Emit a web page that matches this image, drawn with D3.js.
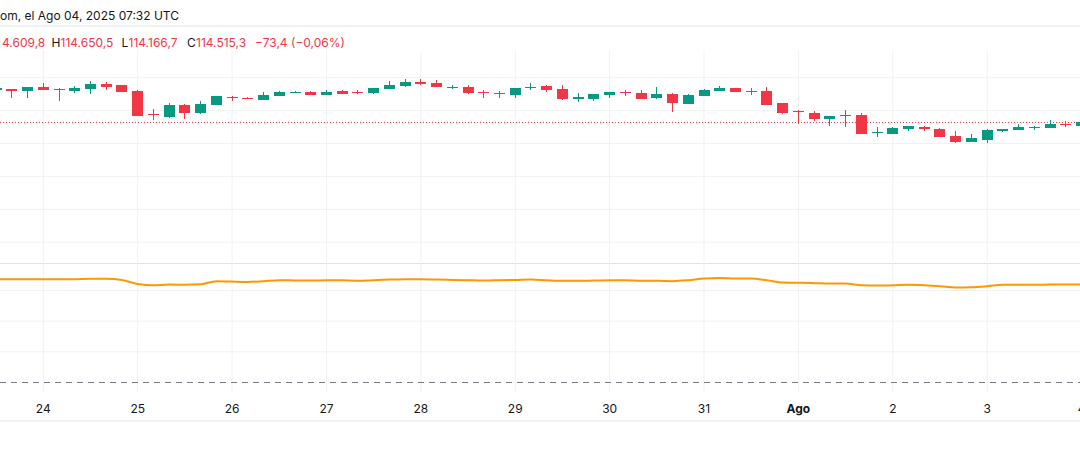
<!DOCTYPE html>
<html>
<head>
<meta charset="utf-8">
<script src="https://cdn.jsdelivr.net/npm/d3@7"></script>
<style>
  html, body { margin: 0; padding: 0; background: #fff; overflow: hidden; }
  svg { display: block; font-family: Inter, "Noto Sans", sans-serif; }
  .grid line { stroke: #f0f1f3; }
  .grid path { display: none; }
</style>
</head>
<body>
<div id="chart"></div>
<script>
// 4h candles, Jul 23 12:00 UTC onward
var opens = [118500,118630,118380,118870,118630,118380,118630,119230,119110,118380,
  115590,115220,116680,115710,116680,117650,117530,117290,117780,118140,
  118260,117900,118380,118260,118140,118630,118990,119480,119360,118750,
  118870,118260,118140,117900,118750,118990,118630,117410,117410,117900,
  118260,118140,117530,118020,116800,117780,118380,118750,118380,118380,
  116920,115950,115710,114980,115340,115460,113280,113150,113760,114010,
  113760,112910,112180,112430,113520,113640,113880,113880,114370,114130];
var highs = [118870,118630,118870,119360,118750,118990,119600,119480,119110,118500,
  116190,116920,116800,117170,117780,117780,117650,118260,118380,118380,
  118380,118500,118500,118500,118750,119600,119840,119840,119720,119110,
  119110,118500,118380,118750,119360,119110,119110,118140,118020,118260,
  118500,118500,118870,118140,118020,118630,118990,118750,118750,118870,
  116920,116070,115950,115340,116070,115710,114010,114010,114130,114130,
  113880,113520,113150,113760,113760,114370,114130,114860,114740,114860];
var lows = [118380,117530,117530,118500,117170,118140,118020,118500,118260,115340,
  114860,115100,114980,115590,116680,117170,117410,117290,117780,118140,
  117900,117900,118020,118020,118020,118630,118870,119110,118870,118630,
  118020,117530,117530,117530,118500,118260,117290,117050,117170,117530,
  117780,117410,117410,115830,116800,117780,118380,118260,117900,116680,
  115590,114370,114740,114130,114010,113150,112790,113150,113520,113520,
  112790,112060,112180,112060,113400,113640,113640,113880,114010,114130];
var closes = [118750,118380,118870,118500,118500,118750,119230,118870,118260,115340,
  115460,116680,115710,116800,117780,117530,117410,117900,118260,118260,
  117900,118260,118020,118140,118750,119110,119480,119230,118870,118870,
  118140,118140,118020,118750,118870,118500,117410,117650,118020,118260,
  118140,117410,118020,116920,117900,118500,118750,118260,118260,116680,
  115710,115830,114980,115340,115460,113150,113400,113880,114130,113760,
  112790,112180,112670,113640,113760,114010,114010,114370,114250,114610];
var oscillator = [67.4,67.4,67.4,67.4,67.4,67.4,67.6,67.6,66.8,64.3,
  63.4,63.9,63.7,64.0,66.1,65.8,65.6,66.1,66.7,66.6,
  66.5,66.7,66.7,66.3,66.7,67.1,67.4,67.4,67.1,66.9,
  66.7,66.5,66.7,66.9,67.2,66.7,66.3,66.3,66.5,66.7,
  66.7,66.3,66.3,66.1,66.7,67.8,68.1,67.8,67.8,66.7,
  65.2,65.0,64.8,64.5,64.5,63.4,63.2,63.4,63.7,63.4,
  62.8,61.9,62.1,62.8,63.7,63.7,63.7,63.9,63.9,63.9];

var priceTicks = [100000,104000,108000,112000,116000,120000];
var oscTicks = [20,40,60];
var lastPrice = 114515.3;
var dayTicks = [
  [2025,6,24,"24"],[2025,6,25,"25"],[2025,6,26,"26"],[2025,6,27,"27"],[2025,6,28,"28"],[2025,6,29,"29"],
  [2025,6,30,"30"],[2025,6,31,"31"],[2025,7,1,"Ago"],[2025,7,2,"2"],[2025,7,3,"3"],[2025,7,4,"4"]
];
var titleText = "om, el Ago 04, 2025 07:32 UTC";
var legendParts = [
  {x: 2, t: "4.609,8", c: "#f23645"}, {x: 51.5, t: "H", c: "#131722"}, {x: 60.5, t: "114.650,5", c: "#f23645"},
  {x: 121.5, t: "L", c: "#131722"}, {x: 128.5, t: "114.166,7", c: "#f23645"}, {x: 187, t: "C", c: "#131722"},
  {x: 196, t: "114.515,3", c: "#f23645"}, {x: 255, t: "\u221273,4", c: "#f23645"}, {x: 291, t: "(\u22120,06%)", c: "#f23645"}
];

var svgWidth = 1080, svgHeight = 456;
var green = "#089981", red = "#f23645";

var svg = d3.select("#chart").append("svg")
  .attr("width", svgWidth)
  .attr("height", svgHeight);

var candleTime = opens.map((d, i) => new Date(Date.UTC(2025, 6, 23, 12 + 4 * i)));
var dayDates = dayTicks.map(d => new Date(Date.UTC(d[0], d[1], d[2])));

var x = d3.scaleUtc()
  .domain([dayDates[0], dayDates[8]])
  .range([43.3, 798.4]);
var y = d3.scaleLinear()
  .domain([112000, 116000])
  .range([143.5, 110.6]);
var yOsc = d3.scaleLinear()
  .domain([0, 60])
  .range([382.5, 290.5]);
var candleX = i => Math.round(x(candleTime[i]) - 0.5);

// frame lines
[[26, 2, "#f0f1f3"], [263.5, 1, "#e0e3eb"], [421, 2, "#f0f1f3"]].forEach(function(l) {
  svg.append("line").attr("x1", 0).attr("x2", svgWidth).attr("y1", l[0]).attr("y2", l[0])
    .attr("stroke", l[2]).attr("stroke-width", l[1]);
});

// horizontal grids
var priceGrid = svg.append("g").attr("class", "grid")
  .call(d3.axisRight(y).tickValues(priceTicks).tickSize(svgWidth).tickFormat("").offset(0));
var oscGrid = svg.append("g").attr("class", "grid")
  .call(d3.axisRight(yOsc).tickValues(oscTicks).tickSize(svgWidth).tickFormat("").offset(0));

// time axis with vertical grid
var bottomAxis = d3.axisBottom(x)
  .tickValues(dayDates)
  .tickSizeInner(-343)
  .tickSizeOuter(0)
  .tickPadding(11)
  .tickFormat((d, i) => dayTicks[i][3])
  .offset(0);
var xAxis = svg.append("g").attr("class", "grid")
  .attr("transform", "translate(0,393)")
  .call(bottomAxis);
xAxis.selectAll("text")
  .attr("fill", "#131722")
  .attr("font-size", 12)
  .attr("font-family", "Inter, sans-serif")
  .attr("font-weight", (d, i) => dayTicks[i][3] === "Ago" ? 700 : 400);

// last price line
svg.append("line")
  .attr("x1", 0).attr("x2", svgWidth)
  .attr("y1", Math.floor(y(lastPrice)) + 0.5).attr("y2", Math.floor(y(lastPrice)) + 0.5)
  .attr("stroke", red)
  .attr("stroke-dasharray", "1,2");

// candles
var candles = svg.append("g").selectAll("g")
  .data(opens)
  .enter()
  .append("g");
candles.append("line")
  .attr("x1", (d, i) => candleX(i) + 0.5)
  .attr("x2", (d, i) => candleX(i) + 0.5)
  .attr("y1", (d, i) => Math.round(y(highs[i])))
  .attr("y2", (d, i) => Math.round(y(lows[i])))
  .attr("stroke", (d, i) => closes[i] >= opens[i] ? green : red);
candles.append("rect")
  .attr("x", (d, i) => candleX(i) - 5)
  .attr("width", 11)
  .attr("y", (d, i) => Math.round(y(Math.max(opens[i], closes[i]))))
  .attr("height", (d, i) => Math.max(1, Math.round(y(Math.min(opens[i], closes[i]))) - Math.round(y(Math.max(opens[i], closes[i])))))
  .attr("fill", (d, i) => closes[i] >= opens[i] ? green : red);

// lower pane
svg.append("line")
  .attr("x1", 0).attr("x2", svgWidth)
  .attr("y1", yOsc(0)).attr("y2", yOsc(0))
  .attr("stroke", "#787b86")
  .attr("stroke-dasharray", "6,5");

var oscLine = d3.line()
  .x((d, i) => x(candleTime[i]))
  .y(d => yOsc(d))
  .curve(d3.curveMonotoneX);
svg.append("path")
  .datum(oscillator)
  .attr("d", oscLine)
  .attr("fill", "none")
  .attr("stroke", "#ff9800")
  .attr("stroke-width", 2);

// header
svg.append("text")
  .attr("x", 0).attr("y", 20)
  .attr("fill", "#131722")
  .attr("font-size", 12)
  .text(titleText);
svg.append("g").selectAll("text")
  .data(legendParts)
  .enter()
  .append("text")
  .attr("x", d => d.x)
  .attr("y", 47)
  .attr("fill", d => d.c)
  .attr("font-size", 12)
  .text(d => d.t);
</script>
</body>
</html>
